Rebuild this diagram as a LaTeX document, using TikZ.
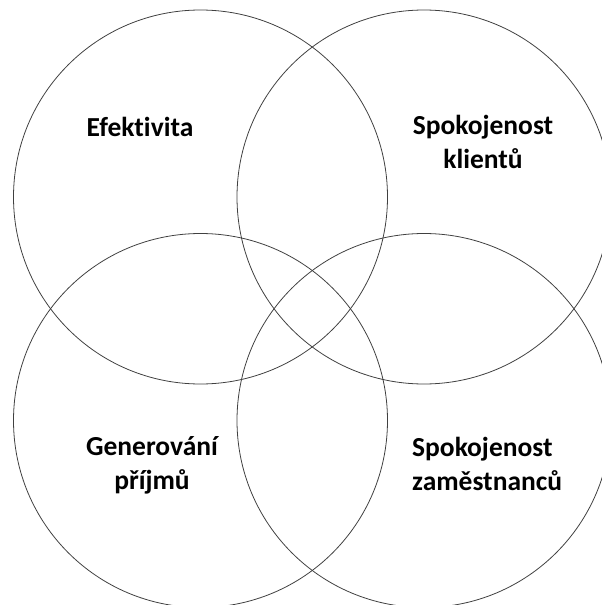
\documentclass[tikz,border=0pt]{standalone}
\usepackage{fontspec}
\setmainfont{Carlito}[Ligatures=NoCommon]
\begin{document}
\begin{tikzpicture}[x=1pt,y=-1pt,
  ring/.style={circle,draw=black!75,line width=0.8pt,minimum size=374pt,inner sep=0pt},
  label/.style={font=\bfseries\fontsize{27.5}{34}\selectfont,align=center,inner sep=0pt}]
  \useasboundingbox (0,0) rectangle (602,605);
  \clip (0,0) rectangle (602,605);
  % four overlapping circles
  \node[ring] (tl) at (200.5,197) {};
  \node[ring] (tr) at (424,197) {};
  \node[ring] (bl) at (200.5,420.5) {};
  \node[ring] (br) at (424,420.5) {};
  % circle labels
  \node[label] (efekt) at (140,127) {Efektivita};
  \node[label] (klient) at (483,142) {Spokojenost\\klientů};
  \node[label] (prijem) at (152,465) {Generování\\příjmů};
  \node[label,align=left,anchor=west] (zamest) at (412,463.5) {Spokojenost\\zaměstnanců};
\end{tikzpicture}
\end{document}
